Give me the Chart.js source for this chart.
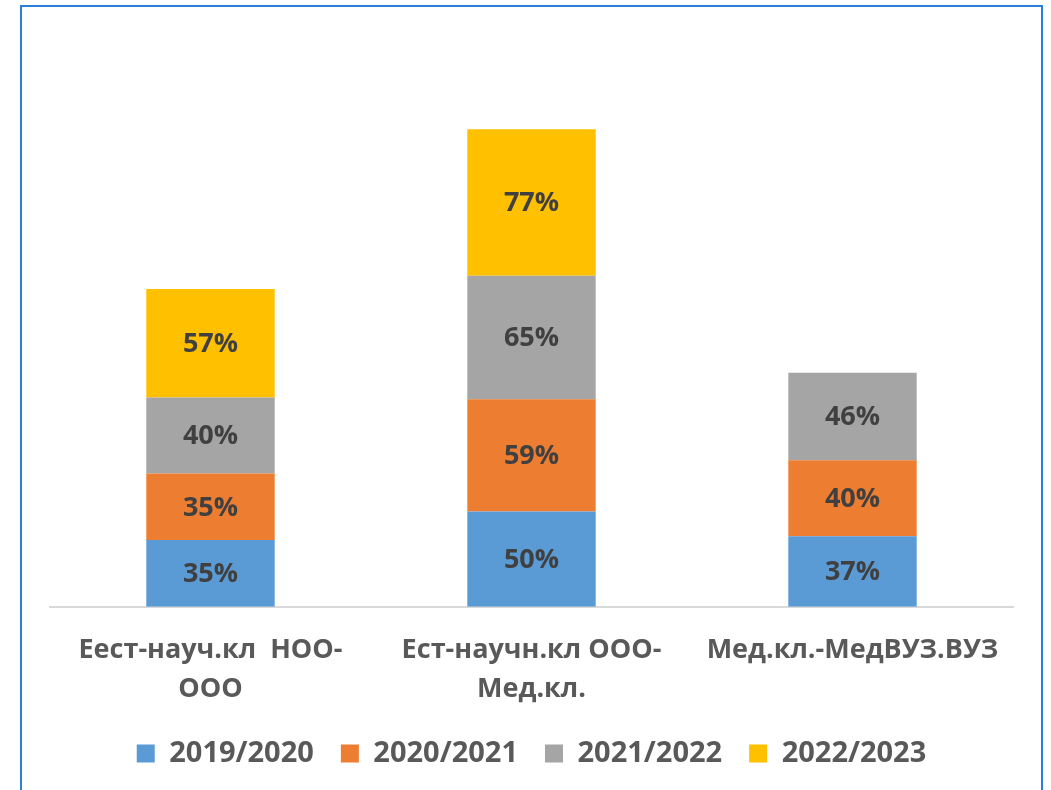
<!DOCTYPE html>
<html>
<head>
<meta charset="utf-8">
<script src="https://cdn.jsdelivr.net/npm/chart.js@4.4.0/dist/chart.umd.min.js"></script>
<style>
  html, body { margin: 0; padding: 0; background: #fff; }
  #wrap { position: relative; width: 1051px; height: 790px; overflow: hidden; }
  #frame { position: absolute; left: 20px; top: 5px; width: 1023px; height: 800px;
           border: 2px solid #2b7fd6; border-bottom: none; box-sizing: border-box; }
  canvas { position: absolute; left: 0; top: 0; }
</style>
</head>
<body>
<div id="wrap">
  <div id="frame"></div>
  <canvas id="c" width="1051" height="790"></canvas>
</div>
<script>
const categories = [
  ["Еест-науч.кл  НОО-", "ООО"],
  ["Ест-научн.кл ООО-", "Мед.кл."],
  "Мед.кл.-МедВУЗ.ВУЗ"
];
const seriesNames = ["2019/2020", "2020/2021", "2021/2022", "2022/2023"];
const s2019 = [35, 50, 37];
const s2020 = [35, 59, 40];
const s2021 = [40, 65, 46];
const s2022 = [57, 77, null];
const colors = ["#5b9bd5", "#ed7d31", "#a5a5a5", "#ffc000"];

const FONT = "'Open Sans', 'DejaVu Sans', sans-serif";

const labelPlugin = {
  id: 'segLabels',
  afterDatasetsDraw(chart) {
    const ctx = chart.ctx;
    ctx.save();
    ctx.font = "bold 27px " + FONT;
    ctx.fillStyle = "#404040";
    ctx.textAlign = "center";
    ctx.textBaseline = "middle";
    chart.data.datasets.forEach((ds, di) => {
      const meta = chart.getDatasetMeta(di);
      meta.data.forEach((el, i) => {
        const v = ds.data[i];
        if (v == null) return;
        const p = el.getProps(['x', 'y', 'base'], true);
        ctx.fillText(v + "%", p.x, (p.y + p.base) / 2 + 1);
      });
    });
    ctx.restore();
  }
};

new Chart(document.getElementById('c'), {
  type: 'bar',
  data: {
    labels: categories,
    datasets: [s2019, s2020, s2021, s2022].map((d, i) => ({
      label: seriesNames[i],
      data: d,
      backgroundColor: colors[i],
      borderWidth: 0,
      categoryPercentage: 1,
      barPercentage: 0.4
    }))
  },
  options: {
    responsive: false,
    animation: false,
    layout: { padding: { left: 50, right: 38, top: 36, bottom: 12 } },
    plugins: {
      tooltip: { enabled: false },
      legend: {
        position: 'bottom',
        labels: {
          boxWidth: 18, boxHeight: 18, padding: 27,
          color: "#595959",
          font: { family: FONT, size: 29, weight: 'bold' }
        }
      }
    },
    scales: {
      x: {
        stacked: true,
        grid: { display: false, drawTicks: false },
        border: { display: true, color: "#d9d9d9", width: 2 },
        afterFit(scale) { scale.height -= 21; },
        ticks: {
          color: "#595959",
          padding: 24,
          maxRotation: 0,
          autoSkip: false,
          font: { family: FONT, size: 27, weight: 'bold', lineHeight: 1.45 }
        }
      },
      y: {
        stacked: true,
        display: false,
        min: 0, max: 300
      }
    }
  },
  plugins: [labelPlugin]
});
</script>
</body>
</html>
